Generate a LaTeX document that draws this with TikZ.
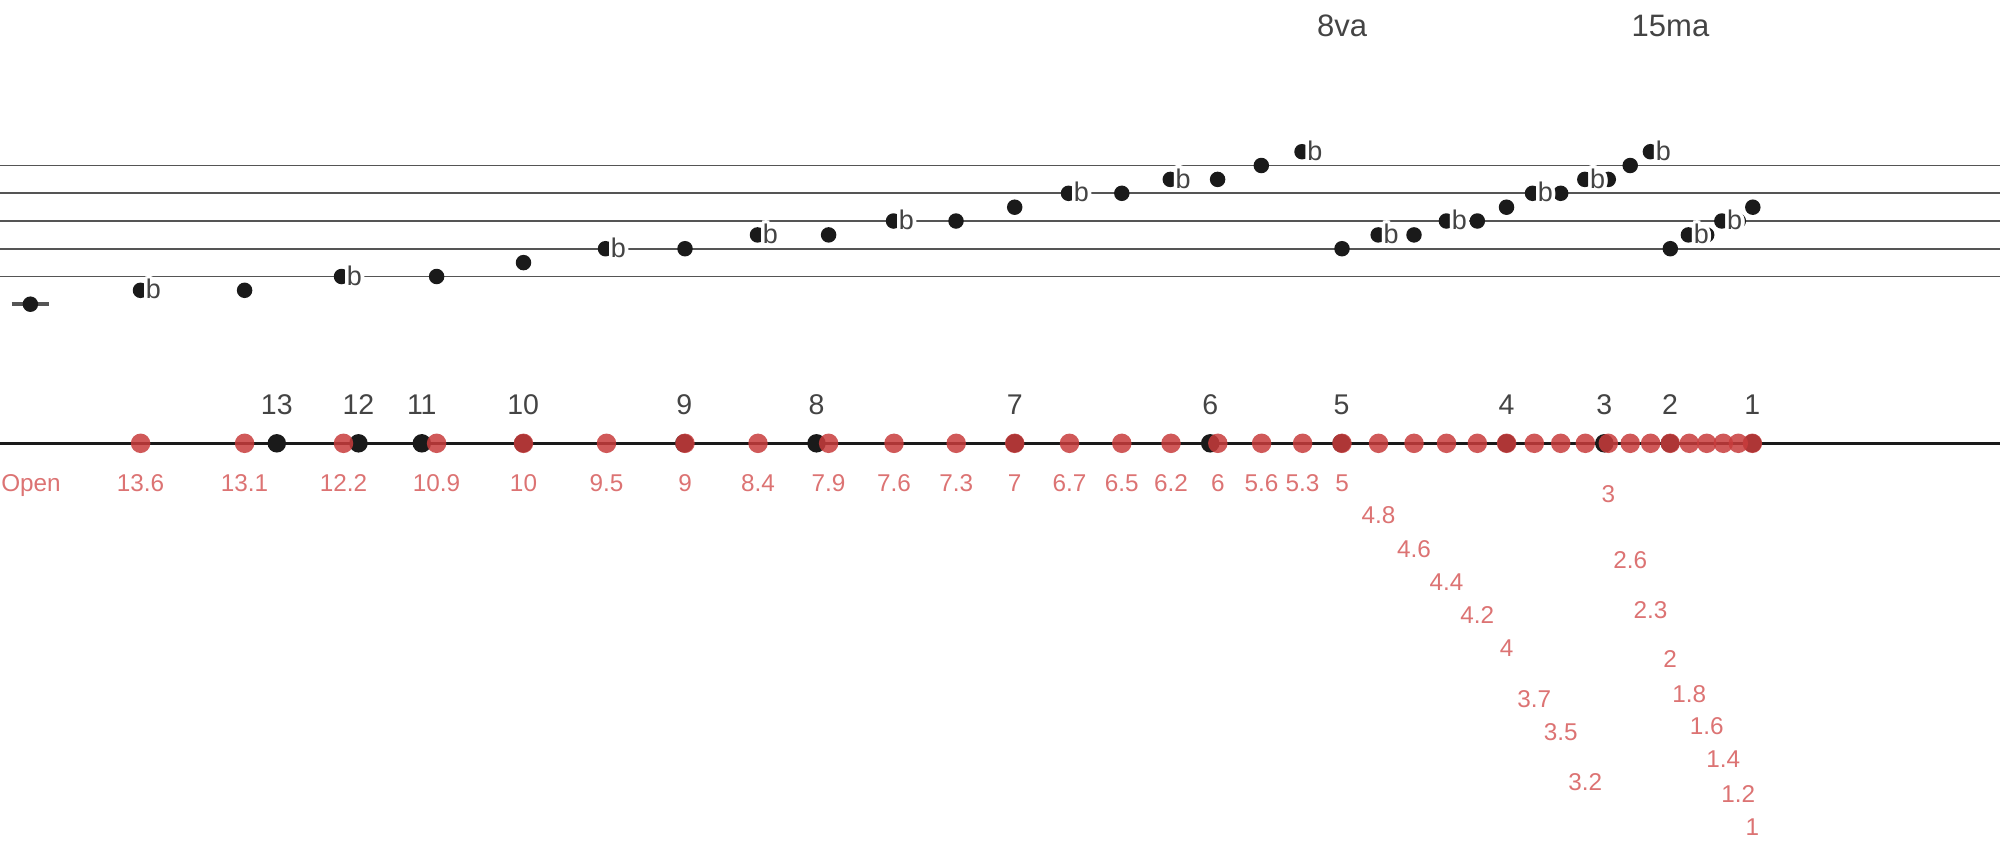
\documentclass[tikz,border=0pt]{standalone}
\usepackage{fontspec}
\setmainfont{Liberation Sans}
\definecolor{txtgray}{HTML}{444444}
\definecolor{staffgray}{HTML}{555555}
\definecolor{dotblack}{HTML}{1A1A1A}
\definecolor{redpt}{RGB}{200,60,60}
\definecolor{redlab}{RGB}{220,115,115}
\newcommand\halotext[1]{\leavevmode\rlap{\color{white}\foreach \hr in {1.8,3.6}{\foreach \ang in {0,22.5,...,337.5}{\pgfmathsetmacro\hdx{\hr*cos(\ang)}\pgfmathsetmacro\hdy{\hr*sin(\ang)}\rlap{\hspace*{\hdx pt}\raisebox{\hdy pt}{#1}}}}}#1}
\begin{document}
\begin{tikzpicture}[x=1pt,y=-1pt,
  staffline/.style={staffgray,line width=1.8pt},
  ledger/.style={staffgray,line width=4pt},
  axisline/.style={dotblack,line width=2.5pt},
  note/.style={circle,fill=dotblack,inner sep=0pt,minimum size=15.5pt},
  flatsign/.style={anchor=base west,inner sep=0pt,text=txtgray,font=\fontsize{27}{30}\selectfont},
  ottava/.style={anchor=base,inner sep=0pt,text=txtgray,font=\fontsize{31}{34}\selectfont},
  fretdot/.style={circle,fill=dotblack,inner sep=0pt,minimum size=18.5pt},
  fretlab/.style={anchor=base,inner sep=0pt,text=txtgray,font=\fontsize{28.5}{32}\selectfont},
  reddot/.style={circle,fill=redpt,fill opacity=0.85,inner sep=0pt,minimum size=19.5pt},
  redlabel/.style={anchor=base,inner sep=0pt,text=redlab,font=\fontsize{24.3}{28}\selectfont}]
\useasboundingbox (0,0) rectangle (2000,847);
% staff
\foreach \sy [count=\i] in {165.5,193.3,221,248.7,276.5}{
  \coordinate (sla\i) at (0,\sy);
  \coordinate (slb\i) at (2000,\sy);
  \draw[staffline] (sla\i) -- (slb\i);
}
\coordinate (leda) at (11.7,304.2);
\coordinate (ledb) at (49.3,304.2);
\draw[ledger] (leda) -- (ledb);
% notes
\foreach \nx/\ny [count=\i] in {30.4/304.2,140.5/290.3,244.6/290.3,341.5/276.5,436.6/276.5,523.5/262.6,605.5/248.7,685/248.7,757.5/234.9,828.6/234.9,893.5/221,956/221,1014.7/207.2,1068.5/193.3,1121.8/193.3,1170.3/179.4,1217.6/179.4,1261.3/165.5,1302/151.7,1342/248.7,1378.2/234.9,1414/234.9,1446.4/221,1477.3/221,1506.5/207.2,1532.5/193.3,1560.7/193.3,1584.8/179.4,1608.3/179.4,1630.2/165.5,1650.4/151.7,1670.3/248.7,1688.4/234.9,1706.7/234.9,1721.8/221,1738.3/221,1752.8/207.2}{
  \node[note] (note\i) at (\nx,\ny) {};
}
% flats
\foreach \fx/\fy [count=\i] in {140.5/290.3,341.5/276.5,605.5/248.7,757.5/234.9,893.5/221,1068.5/193.3,1170.3/179.4,1302/151.7,1378.2/234.9,1446.4/221,1532.5/193.3,1584.8/179.4,1650.4/151.7,1688.4/234.9,1721.8/221}{
  \node[flatsign] (flat\i) at (\fx+5.2,\fy+8.6) {\halotext{b}};
}
\node[ottava] (ott8) at (1342,36) {8va};
\node[ottava] (ott15) at (1670.5,36) {15ma};
% fret axis
\coordinate (axa) at (0,443.3);
\coordinate (axb) at (2000,443.3);
\draw[axisline] (axa) -- (axb);
\foreach \bx/\bl in {276.8/13,358.5/12,421.8/11,523.2/10,684.3/9,816.5/8,1014.7/7,1210.2/6,1341.5/5,1506.5/4,1604.3/3,1670/2,1752.3/1}{
  \node[fretdot] (fd\bl) at (\bx,443.3) {};
  \node[fretlab] (fl\bl) at (\bx,414) {\bl};
}
\foreach \rx [count=\i] in {140.6,244.6,343.5,436.6,523.5,606.5,685,758,828.6,894,956.2,1014.7,1069.5,1121.8,1171,1217.8,1261.6,1302.6,1342,1378.5,1414,1446.5,1477.3,1506.6,1534.3,1560.7,1585.3,1608.3,1630.2,1650.6,1670.2,1689.3,1706.7,1723.3,1738.3,1752.4}{
  \node[reddot] (rd\i) at (\rx,443.3) {};
}
\node[redlabel] (rlopen) at (31,491.8) {Open};
\foreach \lx/\ly/\lt [count=\i] in {140.6/483/13.6,244.6/483/13.1,343.5/483/12.2,436.6/483/10.9,523.5/483/10,606.5/483/9.5,685/483/9,758/483/8.4,828.6/483/7.9,894/483/7.6,956.2/483/7.3,1014.7/483/7,1069.5/483/6.7,1121.8/483/6.5,1171/483/6.2,1217.8/483/6,1261.6/483/5.6,1302.6/483/5.3,1342/483/5,1378.5/515/4.8,1414/548.3/4.6,1446.5/581.7/4.4,1477.3/615/4.2,1506.6/647.7/4,1534.3/698.3/3.7,1560.7/731.7/3.5,1585.3/781.7/3.2,1608.3/494/3,1630.2/559.3/2.6,1650.6/609.3/2.3,1670.2/659/2,1689.3/693.3/1.8,1706.7/726/1.6,1723.3/758.3/1.4,1738.3/793.3/1.2,1752.4/826.7/1}{
  \node[redlabel] (rl\i) at (\lx,\ly+8.7) {\lt};
}
\end{tikzpicture}
\end{document}
